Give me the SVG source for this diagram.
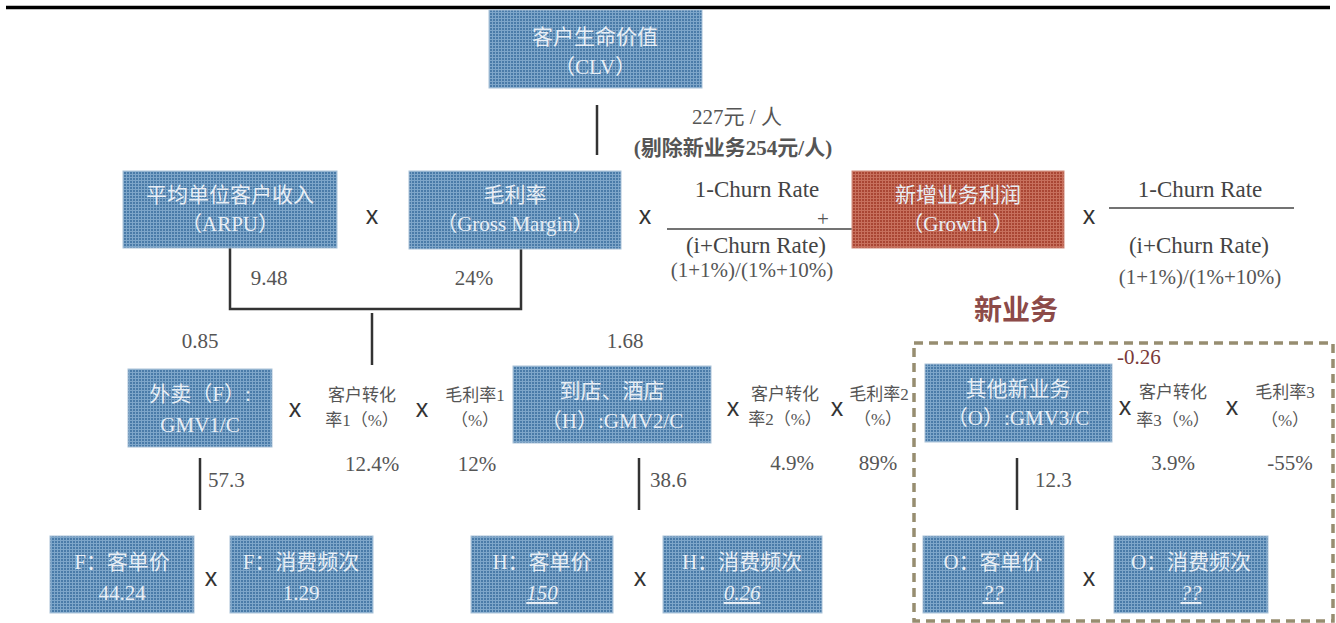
<svg xmlns="http://www.w3.org/2000/svg" width="1336" height="623" viewBox="0 0 1336 623">
<defs>
<pattern id="pb" width="3" height="3" patternUnits="userSpaceOnUse">
<rect width="3" height="3" fill="#4a7ba8"/>
<rect width="3" height="1" fill="#7ea6c9"/>
<rect width="1" height="3" fill="#7ea6c9"/>
</pattern>
<pattern id="pr" width="3" height="3" patternUnits="userSpaceOnUse">
<rect width="3" height="3" fill="#a94634"/>
<rect width="3" height="1" fill="#c7705d"/>
<rect width="1" height="3" fill="#c7705d"/>
</pattern>
<style>
.bx{fill:url(#pb);stroke:#a9c2d8;stroke-width:1}
.rx{fill:url(#pr);stroke:#d08a7a;stroke-width:1}
.bt{font-family:"Liberation Serif","Noto Sans CJK SC",serif;font-size:21px;fill:#e8eef5;text-anchor:middle}
.lb{font-family:"Liberation Serif","Noto Sans CJK SC",serif;font-size:17px;fill:#555;text-anchor:middle}
.nm{font-family:"Liberation Serif","Noto Sans CJK SC",serif;font-size:21px;fill:#555;text-anchor:middle}
.st{text-anchor:start}
.fr{font-family:"Liberation Serif","Noto Sans CJK SC",serif;font-size:23px;fill:#444;text-anchor:middle}
.op{font-family:"Liberation Sans",sans-serif;font-size:25px;fill:#333;text-anchor:middle}
.ln{stroke:#333;stroke-width:2.5;fill:none}
.u{text-decoration:underline;font-style:italic}
</style>
</defs>
<line x1="6" y1="7.5" x2="1330" y2="7.5" stroke="#000" stroke-width="3.5"/>

<g id="connectors">
<line class="ln" x1="597" y1="105" x2="597" y2="155"/>
<path class="ln" d="M230 248 V309 H521 V248"/>
<line class="ln" x1="372" y1="313" x2="372" y2="365"/>
<line class="ln" x1="200" y1="458" x2="200" y2="510"/>
<line class="ln" x1="639" y1="458" x2="639" y2="510"/>
<line class="ln" x1="1017" y1="458" x2="1017" y2="510"/>
</g>

<g id="clv">
<rect class="bx" x="489" y="10" width="213" height="78"/>
<text class="bt" x="595" y="44" font-size="22">客户生命价值</text>
<text class="bt" x="595" y="74" font-size="22">（CLV）</text>
</g>
<g id="clv-value">
<text class="nm" x="737" y="124" font-size="20">227元 / 人</text>
<text class="nm" x="733" y="155" font-size="20" font-weight="bold">(剔除新业务254元/人)</text>
</g>

<g id="arpu">
<rect class="bx" x="123" y="171" width="214" height="77"/>
<text class="bt" x="230" y="202" font-size="22">平均单位客户收入</text>
<text class="bt" x="230" y="231" font-size="22">（ARPU）</text>
<text class="nm" x="269" y="285">9.48</text>
</g>
<text class="op" x="372" y="224">x</text>
<g id="gross-margin">
<rect class="bx" x="409" y="171" width="212" height="78"/>
<text class="bt" x="515" y="202" font-size="22">毛利率</text>
<text class="bt" x="515" y="231" font-size="22">（Gross Margin）</text>
<text class="nm" x="474" y="285">24%</text>
</g>
<text class="op" x="645" y="224">x</text>
<g id="fraction1">
<text class="fr" x="757" y="197">1-Churn Rate</text>
<line x1="667" y1="229" x2="852" y2="229" stroke="#444" stroke-width="1.5"/>
<text class="nm" x="823" y="226" font-size="20">+</text>
<text class="fr" x="756" y="253">(i+Churn Rate)</text>
<text class="nm" x="752" y="277">(1+1%)/(1%+10%)</text>
</g>
<g id="growth">
<rect class="rx" x="852" y="171" width="212" height="77"/>
<text class="bt" x="958" y="202" font-size="22">新增业务利润</text>
<text class="bt" x="958" y="231" font-size="22">（Growth ）</text>
</g>
<text class="op" x="1089" y="224">x</text>
<g id="fraction2">
<text class="fr" x="1200" y="197">1-Churn Rate</text>
<line x1="1109" y1="208" x2="1294" y2="208" stroke="#444" stroke-width="1.5"/>
<text class="fr" x="1199" y="253">(i+Churn Rate)</text>
<text class="nm" x="1200" y="284">(1+1%)/(1%+10%)</text>
</g>

<g id="new-business">
<rect x="914" y="343" width="419" height="278" fill="none" stroke="#978d70" stroke-width="3.5" stroke-dasharray="9 6"/>
<text x="1016" y="320" font-family="Liberation Serif,'Noto Sans CJK SC',serif" font-size="28" font-weight="bold" fill="#8c4a48" text-anchor="middle">新业务</text>
</g>

<g id="takeaway">
<text class="nm" x="200" y="348">0.85</text>
<rect class="bx" x="128" y="369" width="144" height="78"/>
<text class="bt" x="200" y="401">外卖（F）:</text>
<text class="bt" x="200" y="432">GMV1/C</text>
</g>
<text class="op" x="295" y="417">x</text>
<g id="conv1">
<text class="lb" x="362" y="401">客户转化</text>
<text class="lb" x="362" y="426">率1（%）</text>
<text class="nm" x="372" y="471">12.4%</text>
</g>
<text class="op" x="422" y="417">x</text>
<g id="gm1">
<text class="lb" x="475" y="401">毛利率1</text>
<text class="lb" x="475" y="426">（%）</text>
<text class="nm" x="477" y="471">12%</text>
</g>

<g id="hotel">
<text class="nm" x="625" y="348">1.68</text>
<rect class="bx" x="513" y="366" width="198" height="77"/>
<text class="bt" x="612" y="398">到店、酒店</text>
<text class="bt" x="612" y="428">（H）:GMV2/C</text>
</g>
<text class="op" x="733" y="416">x</text>
<g id="conv2">
<text class="lb" x="785" y="400">客户转化</text>
<text class="lb" x="785" y="425">率2（%）</text>
<text class="nm" x="792" y="470">4.9%</text>
</g>
<text class="op" x="837" y="416">x</text>
<g id="gm2">
<text class="lb" x="879" y="400">毛利率2</text>
<text class="lb" x="878" y="425">（%）</text>
<text class="nm" x="878" y="470">89%</text>
</g>

<g id="other">
<text x="1117" y="364" font-family="Liberation Serif,serif" font-size="21" fill="#7a3a3a">-0.26</text>
<rect class="bx" x="925" y="364" width="187" height="78"/>
<text class="bt" x="1018" y="396">其他新业务</text>
<text class="bt" x="1018" y="425">（O）:GMV3/C</text>
</g>
<text class="op" x="1125" y="415">x</text>
<g id="conv3">
<text class="lb" x="1173" y="398">客户转化</text>
<text class="lb" x="1173" y="426">率3（%）</text>
<text class="nm" x="1173" y="470">3.9%</text>
</g>
<text class="op" x="1232" y="415">x</text>
<g id="gm3">
<text class="lb" x="1285" y="398">毛利率3</text>
<text class="lb" x="1285" y="426">（%）</text>
<text class="nm" x="1290" y="470">-55%</text>
</g>

<text class="nm st" x="208" y="487">57.3</text>
<text class="nm st" x="650" y="487">38.6</text>
<text class="nm st" x="1035" y="487">12.3</text>

<g id="f-price">
<rect class="bx" x="50" y="536" width="144" height="77"/>
<text class="bt" x="122" y="569" font-size="20">F：客单价</text>
<text class="bt" x="122" y="600" font-size="20">44.24</text>
</g>
<text class="op" x="211" y="586">x</text>
<g id="f-freq">
<rect class="bx" x="230" y="536" width="143" height="77"/>
<text class="bt" x="301" y="569" font-size="20">F：消费频次</text>
<text class="bt" x="301" y="600" font-size="20">1.29</text>
</g>
<g id="h-price">
<rect class="bx" x="471" y="536" width="142" height="77"/>
<text class="bt" x="542" y="569" font-size="20">H：客单价</text>
<text class="bt u" x="542" y="600" font-size="20">150</text>
</g>
<text class="op" x="640" y="586">x</text>
<g id="h-freq">
<rect class="bx" x="663" y="536" width="159" height="77"/>
<text class="bt" x="742" y="569" font-size="20">H：消费频次</text>
<text class="bt u" x="742" y="600" font-size="20">0.26</text>
</g>
<g id="o-price">
<rect class="bx" x="923" y="536" width="141" height="77"/>
<text class="bt" x="993" y="569" font-size="20">O：客单价</text>
<text class="bt u" x="993" y="600" font-size="20">??</text>
</g>
<text class="op" x="1089" y="586">x</text>
<g id="o-freq">
<rect class="bx" x="1114" y="536" width="154" height="77"/>
<text class="bt" x="1191" y="569" font-size="20">O：消费频次</text>
<text class="bt u" x="1191" y="600" font-size="20">??</text>
</g>
</svg>
